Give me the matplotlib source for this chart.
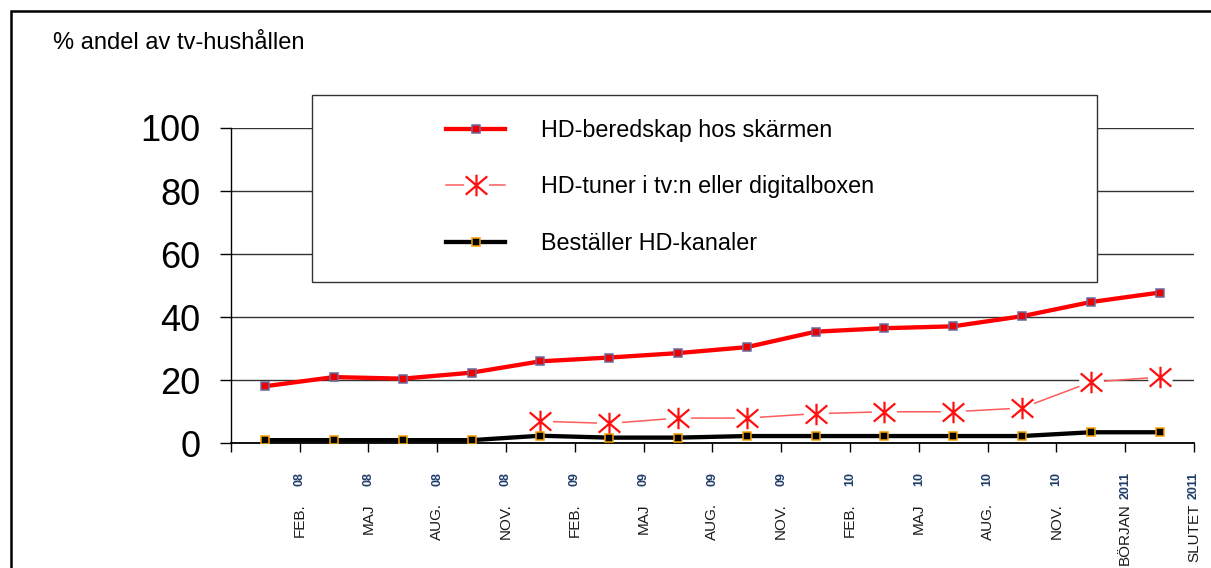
import numpy as np
import matplotlib.pyplot as plt
import matplotlib.transforms as mtransforms
from matplotlib.path import Path
from matplotlib.patches import Rectangle

plt.rcParams['font.family'] = ['Liberation Sans', 'DejaVu Sans']

## Data
manader = ['FEB.', 'MAJ', 'AUG.', 'NOV.', 'FEB.', 'MAJ', 'AUG.', 'NOV.',
           'FEB.', 'MAJ', 'AUG.', 'NOV.', 'BÖRJAN', 'SLUTET']
ar = ['08', '08', '08', '08', '09', '09', '09', '09',
      '10', '10', '10', '10', '2011', '2011']

hd_skarm = [18.1, 21.0, 20.5, 22.4, 26.0, 27.2, 28.6, 30.5, 35.4, 36.5, 37.1, 40.3, 44.8, 47.8]
hd_tuner = [np.nan, np.nan, np.nan, np.nan, 7.0, 6.3, 8.0, 8.0, 9.4, 10.0, 10.0, 11.2, 19.4, 21.0]
hd_kanaler = [1.0, 1.0, 1.0, 1.0, 2.4, 1.8, 1.8, 2.3, 2.3, 2.3, 2.3, 2.3, 3.5, 3.5]

etiketter = ['HD-beredskap hos skärmen', 'HD-tuner i tv:n eller digitalboxen',
             'Beställer HD-kanaler']

## Figure
W, H = 1211, 568
fig = plt.figure(figsize=(W / 100, H / 100), dpi=100)
ax = fig.add_axes([230.7 / W, (H - 443.3) / H, 963.3 / W, 315.3 / H])

x = np.arange(len(hd_skarm))

# asterisk marker (vertical bar + X)
stjarna = Path([(0, -1), (0, 1), (-1, -0.85), (1, 0.85), (-1, 0.85), (1, -0.85)],
               [Path.MOVETO, Path.LINETO] * 3)

l2, = ax.plot(x, hd_tuner, color='#ff5c5c', lw=1.1, zorder=2)
bg, = ax.plot(x, hd_tuner, ls='', marker='o', ms=18, mfc='white', mec='none', zorder=2.1)
st, = ax.plot(x, hd_tuner, ls='', marker=stjarna, ms=15.5, mec='#ff1010', mew=1.6, zorder=2.2)
l1, = ax.plot(x, hd_skarm, color='#ff0000', lw=3.1, marker='s', ms=5.5,
              mfc='#ee0000', mec='#6a6a9e', mew=1.1, zorder=3)
l3, = ax.plot(x, hd_kanaler, color='black', lw=3.1, marker='s', ms=5.5,
              mfc='black', mec='#f5a000', mew=1.1, zorder=3)

ax.set_xlim(-0.5, len(x) - 0.5)
ax.set_ylim(0, 100)
ax.set_yticks(np.arange(0, 101, 20))
ax.set_xticks(np.arange(-0.5, len(x), 1))
ax.set_xticklabels([])
ax.tick_params(axis='y', direction='out', length=8, width=1, pad=14, labelsize=26)
ax.tick_params(axis='x', direction='out', length=6.5, width=1)
ax.yaxis.grid(True, color='#333333', lw=1)
ax.set_axisbelow(True)
for s in ['top', 'right']:
    ax.spines[s].set_visible(False)
ax.spines['bottom'].set_linewidth(1.3)
ax.spines['left'].set_linewidth(1)

# month / year labels under the ticks
trans = mtransforms.blended_transform_factory(ax.transData, fig.transFigure)
for i, (m, a) in enumerate(zip(manader, ar)):
    ax.text(i + 0.5, 1 - 503 / H, m, rotation=90, ha='center', va='top',
            fontsize=11, color='#1a1a1a', transform=trans, clip_on=False)
    ax.text(i + 0.5, 1 - 472 / H, a, rotation=90, ha='center', va='top',
            fontsize=9, fontweight='bold', color='#1f3d6b', transform=trans, clip_on=False)

fig.text(53 / W, 1 - 43 / H, '% andel av tv-hushållen', fontsize=17, ha='left', va='center')

# legend box + legend
ax.add_patch(Rectangle((312 / W, 1 - 282 / H), (1097 - 312) / W, (282 - 95) / H,
                       transform=fig.transFigure, facecolor='white', edgecolor='#333333',
                       lw=1, zorder=4, clip_on=False))
leg = ax.legend([l1, (l2, bg, st), l3], etiketter, loc='center left',
                bbox_to_anchor=(446 / W, 1 - 187 / H), bbox_transform=fig.transFigure,
                frameon=False, fontsize=16.8, numpoints=1, borderpad=0, borderaxespad=0,
                handlelength=2.53, handletextpad=1.55, labelspacing=1.45)
leg.set_zorder(5)

# outer frame
fig.patches.append(Rectangle((11 / W, -0.1), 1.2, 1.1 - 11 / H, transform=fig.transFigure,
                             fill=False, edgecolor='black', lw=1.8))

plt.savefig('out.png', dpi=100)
